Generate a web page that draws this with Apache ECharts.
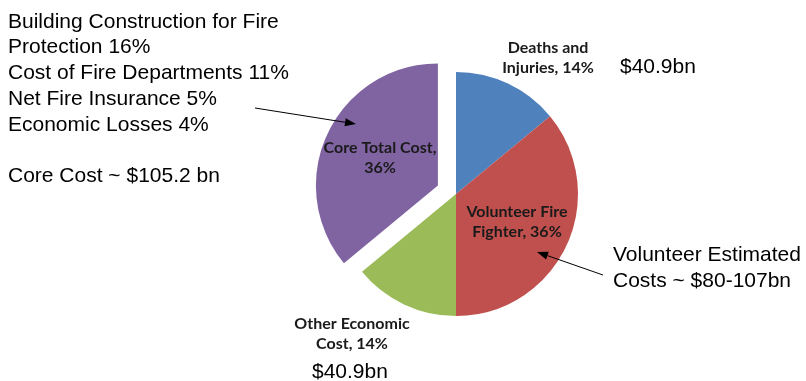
<!DOCTYPE html>
<html><head><meta charset="utf-8">
<script src="https://cdn.jsdelivr.net/npm/echarts@6/dist/echarts.min.js"></script>
<style>html,body{margin:0;padding:0;background:#fff}#c{width:806px;height:381px}</style>
</head><body><div id="c"></div>
<script>
const categories = ['Deaths and\nInjuries', 'Volunteer Fire\nFighter', 'Other Economic\nCost', 'Core Total Cost,'];
const shares = [14, 36, 14, 36];
const colors = ['#4F81BD', '#C0504D', '#9BBB59', '#8064A2'];
const explodedIndex = 3;
const leftNotes = ['Building Construction for Fire', 'Protection 16%', 'Cost of Fire Departments 11%', 'Net Fire Insurance 5%', 'Economic Losses 4%', '', 'Core Cost ~ $105.2 bn'];
const rightNotes = ['Volunteer Estimated', 'Costs ~ $80-107bn'];
const amountTop = '$40.9bn';
const amountBottom = '$40.9bn';

const labelTexts = ['Deaths and\nInjuries, 14%', 'Volunteer Fire\nFighter, 36%', 'Other Economic\nCost, 14%', 'Core Total Cost,\n36%'];
const labelPos = [[548, 58], [517, 222], [352, 334], [380, 187]];

const chart = echarts.init(document.getElementById('c'), null, {renderer: 'canvas'});
const noteFont = {fontFamily: 'Liberation Sans, Arial', fontSize: 21, fill: '#000'};

function arrow(x1, y1, x2, y2) {
  const a = Math.atan2(y2 - y1, x2 - x1), L = 11, W = 4;
  const bx = x2 - L * Math.cos(a), by = y2 - L * Math.sin(a);
  const px = -Math.sin(a) * W, py = Math.cos(a) * W;
  return [
    {type: 'line', z: 100, shape: {x1, y1, x2: bx, y2: by}, style: {stroke: '#000', lineWidth: 1}},
    {type: 'polygon', z: 100, shape: {points: [[x2, y2], [bx + px, by + py], [bx - px, by - py]]}, style: {fill: '#000'}}
  ];
}

const graphics = [];
leftNotes.forEach((t, i) => {
  if (t) graphics.push({type: 'text', z: 100, left: 8, top: 11.5 + i * 25.7, style: Object.assign({text: t}, noteFont)});
});
rightNotes.forEach((t, i) => {
  graphics.push({type: 'text', z: 100, left: 613, top: 244.5 + i * 26.5, style: Object.assign({text: t}, noteFont)});
});
graphics.push({type: 'text', z: 100, left: 620, top: 56.5, style: Object.assign({text: amountTop}, noteFont)});
graphics.push({type: 'text', z: 100, left: 312, top: 361.5, style: Object.assign({text: amountBottom}, noteFont)});
graphics.push(...arrow(255, 108, 356, 124));
graphics.push(...arrow(603, 275, 537, 252));

chart.setOption({
  animation: false,
  backgroundColor: '#fff',
  graphic: graphics,
  series: [{
    type: 'pie',
    center: [456, 194],
    radius: [0, 122],
    startAngle: 90,
    clockwise: true,
    selectedMode: 'multiple',
    selectedOffset: 20,
    avoidLabelOverlap: false,
    emphasis: {disabled: true},
    labelLine: {show: false},
    label: {
      show: true,
      position: 'inside',
      fontFamily: 'Lato',
      fontWeight: 'bold',
      fontSize: 16,
      lineHeight: 20,
      color: '#1a1a1a',
      align: 'center',
      formatter: p => labelTexts[p.dataIndex]
    },
    labelLayout: p => ({x: labelPos[p.dataIndex][0], y: labelPos[p.dataIndex][1], align: 'center', verticalAlign: 'middle'}),
    data: shares.map((v, i) => ({
      name: categories[i], value: v, selected: i === explodedIndex,
      itemStyle: {color: colors[i]}
    }))
  }]
});
</script></body></html>
